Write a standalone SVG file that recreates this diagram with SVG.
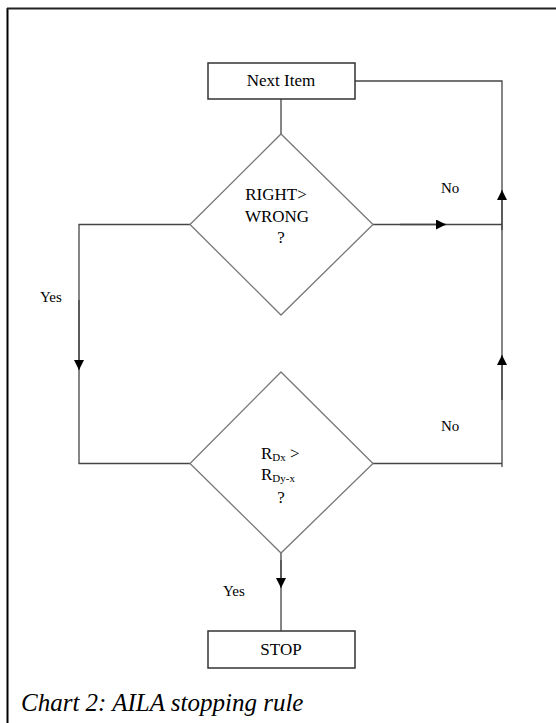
<svg xmlns="http://www.w3.org/2000/svg" width="556" height="723" viewBox="0 0 556 723">
<defs>
<style>
text{font-family:'Liberation Serif','Times New Roman',Times,serif;fill:#000}
.box{fill:#fff;stroke:#333;stroke-width:1.5}
.dia{fill:#fff;stroke:#777;stroke-width:1.3}
.ln{fill:none;stroke:#444;stroke-width:1.3}
.lbl{font-size:15px}
</style>
<marker id="ah" viewBox="0 0 10 10" refX="10" refY="5" markerWidth="10" markerHeight="10" markerUnits="userSpaceOnUse" orient="auto"><path d="M0,0 L10,5 L0,10 Z" fill="#000"/></marker>
</defs>
<rect width="556" height="723" fill="#fff"/>
<g id="frame">
<line x1="7.5" y1="8" x2="7.5" y2="723" stroke="#000" stroke-width="2"/>
<line x1="7" y1="8.5" x2="556" y2="8.5" stroke="#222" stroke-width="2"/>
</g>
<g id="connectors">
<line class="ln" x1="281" y1="99" x2="281" y2="134"/>
<polyline class="ln" points="355,81 502,81 502,467"/>
<line class="ln" x1="373" y1="224.5" x2="502" y2="224.5"/>
<line class="ln" x1="373" y1="463.5" x2="502" y2="463.5"/>
<polyline class="ln" points="190,224.5 79,224.5 79,463.5 190,463.5"/>
<line class="ln" x1="281" y1="553" x2="281" y2="631"/>
<line class="ln" x1="79" y1="300" x2="79" y2="370" marker-end="url(#ah)"/>
<line class="ln" x1="400" y1="224.5" x2="446" y2="224.5" marker-end="url(#ah)"/>
<line class="ln" x1="502" y1="230" x2="502" y2="190" marker-end="url(#ah)"/>
<line class="ln" x1="502" y1="400" x2="502" y2="355" marker-end="url(#ah)"/>
<line class="ln" x1="281" y1="560" x2="281" y2="588" marker-end="url(#ah)"/>
<text class="lbl" x="40" y="302">Yes</text>
<text class="lbl" x="441" y="193">No</text>
<text class="lbl" x="441" y="431">No</text>
<text class="lbl" x="223" y="596">Yes</text>
</g>
<g id="next-item">
<rect class="box" x="208" y="63" width="147" height="36"/>
<text x="281" y="86" font-size="17" text-anchor="middle">Next Item</text>
</g>
<g id="decision-1">
<polygon class="dia" points="281,134 373,224.5 281,315 190,224.5"/>
<text font-size="17" text-anchor="middle"><tspan x="276" y="200">RIGHT&gt;</tspan><tspan x="277" y="222">WRONG</tspan><tspan x="281" y="243">?</tspan></text>
</g>
<g id="decision-2">
<polygon class="dia" points="281,372 373,463.5 281,553 190,463.5"/>
<text font-size="17" x="261" y="459">R<tspan font-size="11" dy="2">Dx</tspan><tspan dy="-2"> &gt;</tspan></text>
<text font-size="17" x="261" y="480">R<tspan font-size="11" dy="2">Dy-x</tspan></text>
<text font-size="17" x="281" y="503" text-anchor="middle">?</text>
</g>
<g id="stop">
<rect class="box" x="208" y="631" width="147" height="37"/>
<text x="281" y="655" font-size="17" text-anchor="middle">STOP</text>
</g>
<text x="21" y="711" font-size="25" font-style="italic">Chart 2: AILA stopping rule</text>
</svg>
